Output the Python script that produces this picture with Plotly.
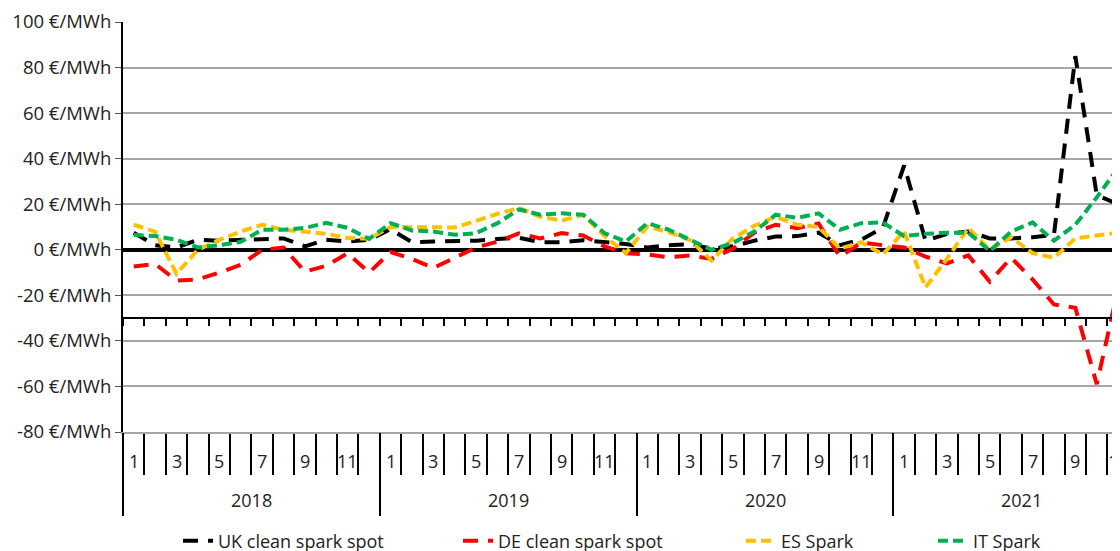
import plotly.graph_objects as go

# ---------------- data ----------------
years = [2018, 2019, 2020, 2021]
periods = [f"{y}-{m:02d}" for y in years for m in range(1, 13)][:47]  # Jan 2018 .. Nov 2021
month_tick_labels = ["1", "3", "5", "7", "9", "11"]

uk_clean_spark = [7.5, 2, 1, 4.4, 4, 4.4, 5, 5, 1.5, 4.4, 3.6, 4.4,
                  9, 3.3, 3.6, 3.6, 4, 4.7, 5.3, 3.3, 3.3, 4.2, 3.3, 2.5,
                  1, 2, 2.5, 0.5, 1.5, 4, 5.8, 6, 7.5, 2, 4.5, 9.6,
                  37, 4, 7, 8, 5, 5, 5.5, 6.5, 85, 24, 20]
de_clean_spark = [-7.3, -6.2, -13.5, -13, -10, -6.6, 0, 1, -9.6, -7, -1.5, -10,
                  -1, -4, -8, -3.5, 1, 3.6, 7.2, 5, 7.3, 6.3, 1.5, -1.5,
                  -2, -3.3, -2.5, -4, 0.5, 7.5, 11, 9.5, 11.5, -3, 3.2, 2,
                  1, -3, -6, -2.5, -14, -3.5, -13, -24, -25.5, -59, -17]
es_spark = [11, 8, -10.5, 0, 4.4, 8, 11, 8.8, 8, 7, 5.2, 4.8,
            10, 9.8, 9.8, 9.8, 12.7, 15.8, 18.3, 14.5, 12.8, 15.4, 6, -1.5,
            10.2, 7.7, 4.2, -4.7, 5, 10.5, 14.5, 11, 10, 0.5, 3.3, -2,
            8, -16.5, -4, 9.6, 0, 5.5, -1.5, -3.5, 5, 6.3, 7.5]
it_spark = [6.6, 6, 4.4, 1, 2, 3.5, 8.8, 8.8, 9.6, 11.8, 9.6, 4.8,
            11.7, 8.5, 8, 6.6, 7.3, 11.7, 17.7, 15.4, 16, 15.4, 7.3, 3.6,
            11.7, 8.8, 4.4, 0, 3, 8, 15.4, 14, 16, 8.8, 11.7, 12,
            6, 7, 7.5, 7.5, -0.5, 8, 12, 4, 11, 23, 36]

y_tick_values = [100, 80, 60, 40, 20, 0, -20, -40, -60, -80]
y_tick_text = [f"{v} €/MWh" for v in y_tick_values]

series = [
    ("UK clean spark spot", uk_clean_spark, "#000000", "15px,10px", "legend"),
    ("DE clean spark spot", de_clean_spark, "#FF0000", "15px,10px", "legend2"),
    ("ES Spark", es_spark, "#FFC000", "10px,5px", "legend3"),
    ("IT Spark", it_spark, "#00B050", "10px,5px", "legend4"),
]

x_pos = list(range(len(periods)))
n_cat = 48
month_bounds = [i - 0.5 for i in range(n_cat + 1)]
year_bounds = [i * 12 - 0.5 for i in range(len(years) + 1)]

FONT = "Open Sans"
TXT = "#222222"
GRID = "#A6A6A6"

fig = go.Figure()
for name, vals, color, dash, lg in series:
    fig.add_trace(go.Scatter(
        x=x_pos, y=vals, mode="lines", name=name,
        line=dict(color=color, width=4, dash=dash),
        legend=lg, hoverinfo="skip"))

# helper empty traces so the decorative overlay axes are drawn
fig.add_trace(go.Scatter(x=[None], y=[None], xaxis="x2", showlegend=False, hoverinfo="skip"))
fig.add_trace(go.Scatter(x=[None], y=[None], xaxis="x3", showlegend=False, hoverinfo="skip"))

xr = [-0.5, 46.46]
ymin, ymax = -80, 100
axis_cross = -30

fig.update_layout(
    width=1120, height=551,
    margin=dict(l=115, r=0, t=14, b=127, autoexpand=False),
    paper_bgcolor="white", plot_bgcolor="white",
    font=dict(family=FONT, size=18, color=TXT),
    xaxis=dict(range=xr, anchor="free", position=(axis_cross - ymin) / (ymax - ymin),
               showline=True, linecolor="black", linewidth=2,
               ticks="outside", tickvals=month_bounds, ticklen=7, tickwidth=1.5,
               tickcolor="black", showticklabels=False, showgrid=False, zeroline=False,
               automargin=False),
    xaxis2=dict(range=xr, overlaying="x", anchor="y", side="bottom",
                showline=True, linecolor=GRID, linewidth=2,
                ticks="outside", tickvals=month_bounds, ticklen=41,
                tickwidth=1.5, tickcolor="black", showticklabels=False,
                showgrid=False, zeroline=False, automargin=False),
    xaxis3=dict(range=xr, overlaying="x", anchor="y", side="bottom",
                showline=False, ticks="outside", tickvals=year_bounds, ticklen=83,
                tickwidth=1.5, tickcolor="black", showticklabels=False,
                showgrid=False, zeroline=False, automargin=False),
    yaxis=dict(range=[ymin, ymax], tickvals=y_tick_values, ticktext=y_tick_text,
               showgrid=True, gridcolor=GRID, gridwidth=2,
               showline=True, linecolor="black", linewidth=2,
               ticks="outside", ticklen=6, tickcolor="#555555",
               zeroline=True, zerolinecolor="black", zerolinewidth=3.5,
               tickfont=dict(size=18.5, color=TXT), automargin=False),
    showlegend=True,
)

legend_x = [170, 450, 733, 925]
for key, lx in zip(["legend", "legend2", "legend3", "legend4"], legend_x):
    fig.update_layout({key: dict(orientation="h", xref="container", yref="container",
                                 x=lx / 1120, y=1 - 533 / 551, xanchor="left", yanchor="middle",
                                 bgcolor="rgba(0,0,0,0)", font=dict(size=18, color=TXT))})

annotations = []
for yi, yr in enumerate(years):
    for lbl in month_tick_labels:
        idx = yi * 12 + int(lbl) - 1
        annotations.append(dict(x=idx, y=0, xref="x", yref="paper", text=lbl,
                                showarrow=False, yanchor="middle", yshift=-29,
                                font=dict(size=18, color=TXT)))
    annotations.append(dict(x=yi * 12 + 5.5, y=0, xref="x", yref="paper", text=str(yr),
                            showarrow=False, yanchor="middle", yshift=-68,
                            font=dict(size=18, color=TXT)))
fig.update_layout(annotations=annotations)

fig.write_html("out.html")
